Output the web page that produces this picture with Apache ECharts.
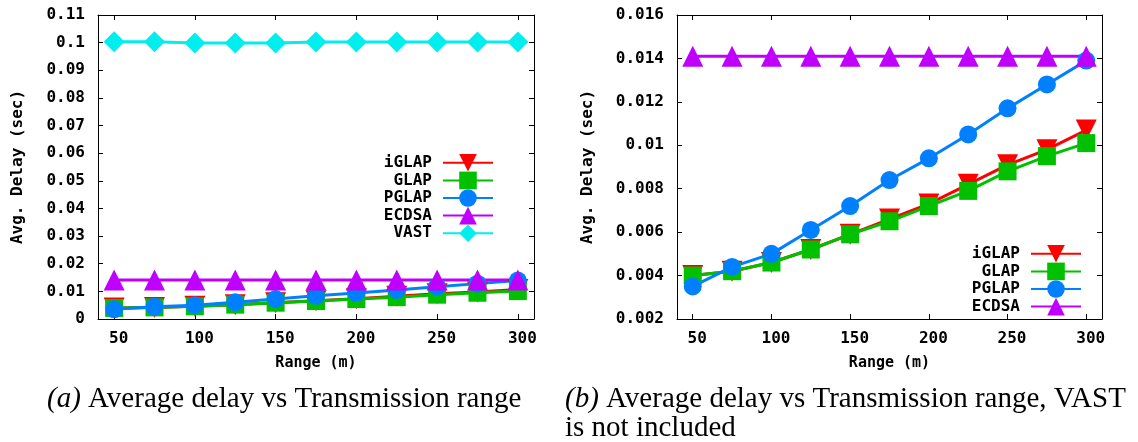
<!DOCTYPE html>
<html>
<head>
<meta charset="utf-8">
<script src="https://cdn.jsdelivr.net/npm/echarts@6/dist/echarts.min.js"></script>
<style>html,body{margin:0;padding:0;background:#fff;}#c{width:1138px;height:442px;}</style>
</head>
<body>
<div id="c"></div>
<script>
// ---- data ----
const rangeValues = [50, 75, 100, 125, 150, 175, 200, 225, 250, 275, 300];
const xTickValues = [50, 100, 150, 200, 250, 300];
const iglap = [0.0040, 0.0042, 0.0046, 0.0052, 0.0059, 0.0066, 0.0073, 0.0082, 0.0091, 0.0098, 0.0107];
const glap  = [0.0040, 0.0042, 0.0046, 0.0052, 0.0059, 0.0065, 0.0072, 0.0079, 0.0088, 0.0095, 0.0101];
const pglap = [0.0035, 0.0044, 0.0050, 0.0061, 0.0072, 0.0084, 0.0094, 0.0105, 0.0117, 0.0128, 0.0139];
const ecdsa = [0.0141, 0.0141, 0.0141, 0.0141, 0.0141, 0.0141, 0.0141, 0.0141, 0.0141, 0.0141, 0.0141];
const vast  = [0.1003, 0.1003, 0.0999, 0.0999, 0.0999, 0.1002, 0.1002, 0.1002, 0.1002, 0.1002, 0.1002];
const seriesNamesA = ['iGLAP', 'GLAP', 'PGLAP', 'ECDSA', 'VAST'];
const seriesNamesB = ['iGLAP', 'GLAP', 'PGLAP', 'ECDSA'];
const captionA = '{i|(a)} Average delay vs Transmission range';
const captionB = '{i|(b)} Average delay vs Transmission range, VAST\nis not included';
const yTitle = 'Avg. Delay (sec)';
const xTitle = 'Range (m)';

// ---- styles ----
const MONO = 'DejaVu Sans Mono';
const SERIF = 'Liberation Serif';
const styles = {
  iGLAP: {color: '#ff0000', symbol: 'triangle', rotate: 180, size: 21},
  GLAP:  {color: '#00c000', symbol: 'rect', rotate: 0, size: 18},
  PGLAP: {color: '#0080ff', symbol: 'circle', rotate: 0, size: 18},
  ECDSA: {color: '#c000ff', symbol: 'triangle', rotate: 0, size: 21},
  VAST:  {color: '#00eeee', symbol: 'diamond', rotate: 0, size: 21}
};
const valuesByName = {iGLAP: iglap, GLAP: glap, PGLAP: pglap, ECDSA: ecdsa, VAST: vast};

const fmt = v => String(+v.toFixed(4));

function xAxes(gridIndex) {
  const base = {
    type: 'value', gridIndex, min: 40, max: 310,
    splitLine: {show: false},
    axisLine: {show: true, onZero: false, lineStyle: {color: '#000', width: 1}},
    axisTick: {show: true, inside: true, length: 5, customValues: xTickValues, lineStyle: {color: '#000'}}
  };
  return [
    Object.assign({}, base, {
      position: 'bottom',
      name: xTitle, nameLocation: 'middle', nameGap: 37,
      nameTextStyle: {fontFamily: MONO, fontSize: 15, fontWeight: 'bold', color: '#000'},
      axisLabel: {show: true, customValues: xTickValues, margin: 12, fontFamily: MONO, fontSize: 16, fontWeight: 'bold', color: '#000', padding: [0, 0, 0, 9]}
    }),
    Object.assign({}, base, {position: 'top', axisLabel: {show: false}})
  ];
}
function yAxes(gridIndex, min, max, interval, gap) {
  const base = {
    type: 'value', gridIndex, min, max, interval,
    splitLine: {show: false},
    axisLine: {show: true, onZero: false, lineStyle: {color: '#000', width: 1}},
    axisTick: {show: true, inside: true, length: 5, lineStyle: {color: '#000'}}
  };
  return [
    Object.assign({}, base, {
      position: 'left',
      name: yTitle, nameLocation: 'middle', nameGap: gap, nameRotate: 90,
      nameTextStyle: {fontFamily: MONO, fontSize: 16, fontWeight: 'bold', color: '#000'},
      axisLabel: {show: true, margin: 13, fontFamily: MONO, fontSize: 16, fontWeight: 'bold', color: '#000', formatter: fmt}
    }),
    Object.assign({}, base, {position: 'right', axisLabel: {show: false}})
  ];
}
function makeSeries(names, axisIndex) {
  return names.map(n => ({
    name: n, type: 'line', xAxisIndex: axisIndex, yAxisIndex: axisIndex,
    data: rangeValues.map((x, i) => [x, valuesByName[n][i]]),
    symbol: styles[n].symbol, symbolRotate: styles[n].rotate, symbolSize: styles[n].size,
    showAllSymbol: true, clip: false, animation: false,
    lineStyle: {color: styles[n].color, width: 3},
    itemStyle: {color: styles[n].color, borderWidth: 0}
  }));
}
function legend(names, right, top) {
  return {
    data: names, orient: 'vertical', align: 'right', right, top, padding: 0,
    itemWidth: 50, itemHeight: 22, itemGap: 0,
    selectedMode: false,
    textStyle: {fontFamily: MONO, fontSize: 16, fontWeight: 'bold', color: '#000', padding: [0, 6, 0, 0]}
  };
}

const chart = echarts.init(document.getElementById('c'), null, {renderer: 'canvas'});
chart.setOption({
  backgroundColor: '#fff',
  animation: false,
  grid: [
    {left: 98, top: 15, width: 436, height: 304},
    {left: 677, top: 15, width: 425, height: 304}
  ],
  xAxis: [...xAxes(0), ...xAxes(1)],
  yAxis: [...yAxes(0, 0, 0.11, 0.01, 72), ...yAxes(1, 0.002, 0.016, 0.002, 81)],
  legend: [legend(seriesNamesA, 1138 - 494, 154), legend(seriesNamesB, 1138 - 1082, 245)],
  title: [
    {text: captionA, left: 47, top: 385, padding: 0,
     textStyle: {fontFamily: SERIF, fontSize: 29, fontWeight: 'normal', color: '#000', lineHeight: 29,
       rich: {i: {fontFamily: SERIF, fontSize: 29, fontStyle: 'italic', color: '#000', lineHeight: 29}}}},
    {text: captionB, left: 565, top: 385, padding: 0,
     textStyle: {fontFamily: SERIF, fontSize: 29, fontWeight: 'normal', color: '#000', lineHeight: 29,
       rich: {i: {fontFamily: SERIF, fontSize: 29, fontStyle: 'italic', color: '#000', lineHeight: 29}}}}
  ],
  series: [...makeSeries(seriesNamesA, 0), ...makeSeries(seriesNamesB, 2)]
});
</script>
</body>
</html>
